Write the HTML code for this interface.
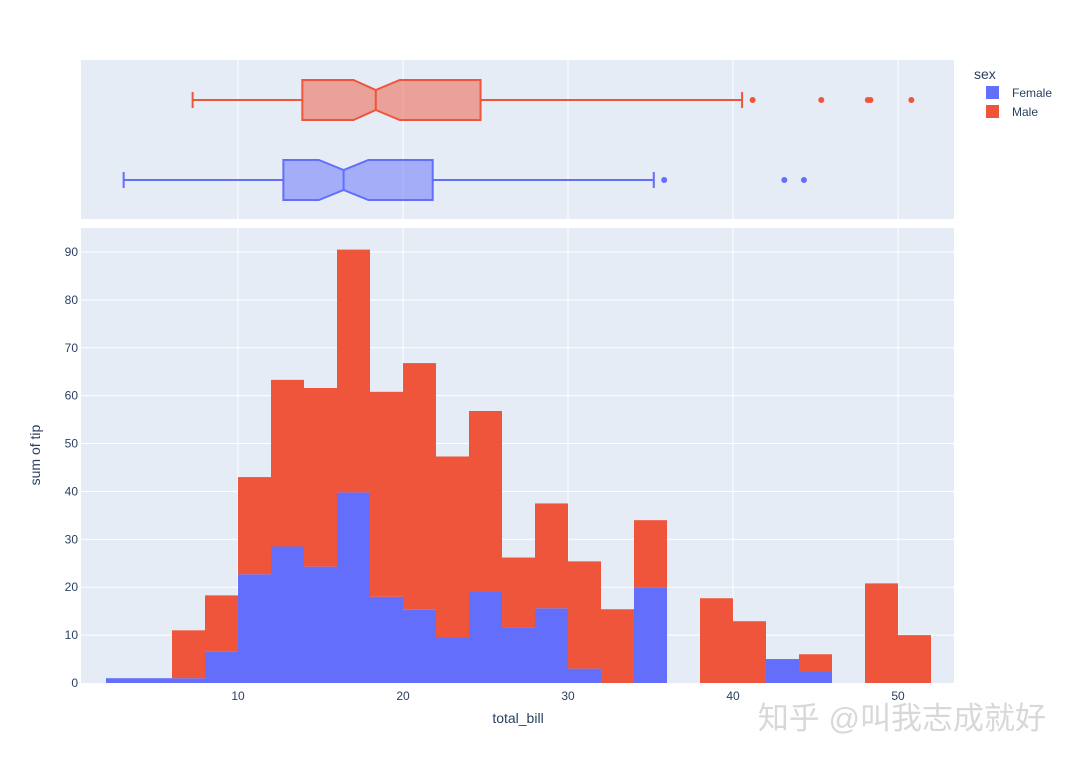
<!DOCTYPE html>
<html><head><meta charset="utf-8"><style>
body{margin:0;background:#fff;font-family:"Liberation Sans","Noto Sans CJK SC",sans-serif}
</style></head><body>
<svg id="c" width="1074" height="763" xmlns="http://www.w3.org/2000/svg" font-family="Liberation Sans, Noto Sans CJK SC, sans-serif">
<rect x="81" y="60" width="873" height="159" fill="#e5ecf6"/>
<rect x="81" y="228" width="873" height="455" fill="#e5ecf6"/>
<g id="grid"></g><g id="bars"></g><g id="boxes"></g><g id="ticks" font-size="12" fill="#2a3f5f"></g>
<text x="518" y="723" font-size="14" fill="#2a3f5f" text-anchor="middle">total_bill</text>
<text x="40" y="455" font-size="14" fill="#2a3f5f" text-anchor="middle" transform="rotate(-90 40 455)">sum of tip</text>
<g>
<text x="974" y="79" font-size="14" fill="#2a3f5f">sex</text>
<g><rect x="986" y="86" width="13" height="13" fill="#636efa"/><text x="1012" y="97" font-size="12" fill="#2a3f5f">Female</text></g>
<g><rect x="986" y="105" width="13" height="13" fill="#ef553b"/><text x="1012" y="116" font-size="12" fill="#2a3f5f">Male</text></g>
</g>
<text x="1046" y="729" font-size="31" fill="#d8d8d8" text-anchor="end">知乎 @叫我志成就好</text>
</svg>
<script>
const binStarts=[2,4,6,8,10,12,14,16,18,20,22,24,26,28,30,32,34,36,38,40,42,44,46,48,50];
const female=[1,1,1,6.5,22.7,28.5,24.3,39.8,18,15.3,9.6,19.2,11.5,15.6,3,0,20,0,0,0,5,2.3,0,0,0];
const male=[0,0,10,11.8,20.3,34.8,37.3,50.7,42.8,51.5,37.7,37.6,14.7,21.9,22.4,15.4,14,0,17.7,12.9,0,3.7,0,20.8,10];
const yTicks=[0,10,20,30,40,50,60,70,80,90];
const xTicks=[10,20,30,40,50];
const boxFemale={lo:3.07,q1:12.75,med:16.4,q3:21.8,hi:35.2,nlo:14.9,nhi:17.9,out:[35.83,43.11,44.3]};
const boxMale={lo:7.25,q1:13.9,med:18.35,q3:24.7,hi:40.55,nlo:17.0,nhi:19.8,out:[41.19,45.35,48.17,48.33,50.81]};
const binW=2;
const X=v=>73+v*16.5, Y=v=>683-v*(431/90);
const NS="http://www.w3.org/2000/svg";
function mk(p,t,a){const e=document.createElementNS(NS,t);for(const k in a)e.setAttribute(k,a[k]);p.appendChild(e);return e;}
const g=document.getElementById('grid'),b=document.getElementById('bars'),bx=document.getElementById('boxes'),tk=document.getElementById('ticks');
yTicks.forEach(v=>{if(v>0){const l=mk(g,'line',{x1:81,x2:954,y1:Y(v),y2:Y(v),stroke:'#fff','stroke-width':1});

}
const t=mk(tk,'text',{x:78,y:Y(v)+4,'text-anchor':'end'});t.textContent=v;

});
xTicks.forEach(v=>{[[60,219],[228,683]].forEach(r=>{const l=mk(g,'line',{x1:X(v),x2:X(v),y1:r[0],y2:r[1],stroke:'#fff','stroke-width':1});

});
const t=mk(tk,'text',{x:X(v),y:700,'text-anchor':'middle'});t.textContent=v;

});
binStarts.forEach((s,i)=>{
if(female[i]>0){const r=mk(b,'rect',{x:X(s),width:X(s+binW)-X(s),y:Y(female[i]),height:Y(0)-Y(female[i]),fill:'#636efa'});

}
if(male[i]>0){const r=mk(b,'rect',{x:X(s),width:X(s+binW)-X(s),y:Y(female[i]+male[i]),height:Y(female[i])-Y(female[i]+male[i]),fill:'#ef553b'});

}
});
function box(d,cy,col,fill,name){
const h=20,nh=10;
const grp=mk(bx,'g',{});


mk(grp,'line',{x1:X(d.lo),x2:X(d.q1),y1:cy,y2:cy,stroke:col,'stroke-width':2});
mk(grp,'line',{x1:X(d.q3),x2:X(d.hi),y1:cy,y2:cy,stroke:col,'stroke-width':2});
mk(grp,'line',{x1:X(d.lo),x2:X(d.lo),y1:cy-8,y2:cy+8,stroke:col,'stroke-width':2});
mk(grp,'line',{x1:X(d.hi),x2:X(d.hi),y1:cy-8,y2:cy+8,stroke:col,'stroke-width':2});
const p=[[X(d.q1),cy-h],[X(d.nlo),cy-h],[X(d.med),cy-nh],[X(d.nhi),cy-h],[X(d.q3),cy-h],[X(d.q3),cy+h],[X(d.nhi),cy+h],[X(d.med),cy+nh],[X(d.nlo),cy+h],[X(d.q1),cy+h]];
mk(grp,'polygon',{points:p.map(q=>q.join(',')).join(' '),fill:fill,stroke:col,'stroke-width':2});
mk(grp,'line',{x1:X(d.med),x2:X(d.med),y1:cy-nh,y2:cy+nh,stroke:col,'stroke-width':2});
d.out.forEach(o=>mk(grp,'circle',{cx:X(o),cy:cy,r:3,fill:col}));
}
box(boxMale,100,'#ef553b','rgba(239,85,59,0.5)','box-male');
box(boxFemale,180,'#636efa','rgba(99,110,250,0.5)','box-female');
</script>
</body></html>
